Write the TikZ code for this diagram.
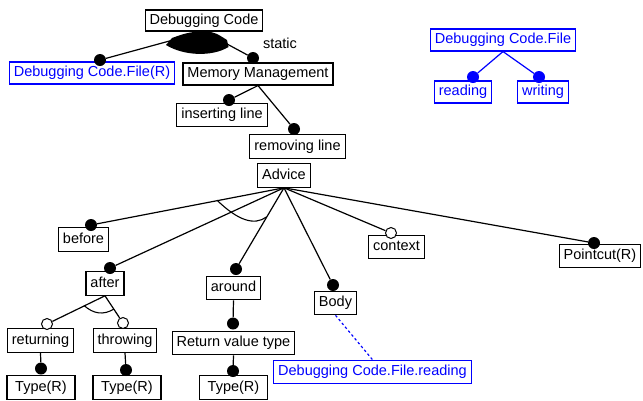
\documentclass[tikz,border=0pt]{standalone}
\usepackage{fontspec}
\setmainfont{Liberation Sans}
\begin{document}
\begin{tikzpicture}[x=1pt,y=-1pt,
  lbl/.style={font=\fontsize{14.5}{17}\selectfont},
  box/.style={lbl,draw=black,line width=1.1pt,inner xsep=4.5pt,inner ysep=0pt,text height=10.5pt,text depth=3pt,minimum height=23.5pt},
  bbox/.style={box,draw=blue,text=blue},
  tbox/.style={box,minimum width=68pt},
  edge/.style={line width=1.2pt,black},
  bedge/.style={line width=1.2pt,blue},
  fdot/.style={circle,fill=black,inner sep=0pt,minimum size=12pt},
  bdot/.style={circle,fill=blue,inner sep=0pt,minimum size=12pt},
  odot/.style={circle,draw=black,fill=white,line width=1pt,inner sep=0pt,minimum size=11pt},
  gate/.style={line width=1.1pt,black}]
\useasboundingbox (0,0) rectangle (643,400);

% boxes
\node[box,minimum height=21pt] (root) at (204,20.5) {Debugging Code};
\node[lbl] (static) at (280,43) {static};
\node[bbox,minimum height=22pt] (dcfr) at (92,73) {Debugging Code.File(R)};
\node[box,minimum height=22pt] (mm) at (258,74) {Memory Management};
\node[box] (ins) at (222,115) {inserting line};
\node[box] (rem) at (297.5,146.5) {removing line};
\node[box] (adv) at (284,175.5) {Advice};
\node[box] (bef) at (83.5,239.5) {before};
\node[box] (aft) at (105,283.5) {after};
\node[box] (aro) at (233.5,288) {around};
\node[box] (bod) at (335.5,303) {Body};
\node[box] (ctx) at (396.5,247) {context};
\node[box] (ptc) at (600,256) {Pointcut(R)};
\node[box] (ret) at (40.5,340.5) {returning};
\node[box] (thr) at (125,340.5) {throwing};
\node[box] (rvt) at (233.5,343) {Return value type};
\node[tbox] (t1) at (41,387.5) {Type(R)};
\node[tbox] (t2) at (127,387.5) {Type(R)};
\node[tbox] (t3) at (233.5,387.5) {Type(R)};
\node[bbox] (dcfread) at (372.5,372) {Debugging Code.File.reading};
\node[bbox,minimum height=22pt] (dcf) at (503,40) {Debugging Code.File};
\node[bbox,minimum height=22pt] (rd) at (463,92) {reading};
\node[bbox,minimum height=22pt] (wr) at (543,92) {writing};

% dots
\node[fdot] (dcfrd) at (100,60) {};
\node[fdot] (mmd) at (253,58) {};
\node[fdot] (insd) at (229,100) {};
\node[fdot] (remd) at (294,129) {};
\node[fdot] (befd) at (91,225) {};
\node[fdot] (aftd) at (110,268) {};
\node[fdot] (arod) at (236,269) {};
\node[fdot] (bodd) at (333,285) {};
\node[odot] (ctxd) at (391,233) {};
\node[fdot] (ptcd) at (594,243) {};
\node[odot] (retd) at (47,324) {};
\node[odot] (thrd) at (123,323) {};
\node[fdot] (rvtd) at (233,323.5) {};
\node[fdot] (t1d) at (41,368.5) {};
\node[fdot] (t2d) at (126,370) {};
\node[fdot] (t3d) at (233,371) {};
\node[bdot] (rdd) at (473,77) {};
\node[bdot] (wrd) at (539,77) {};

% edges
\draw[edge] (root.south) -- (dcfrd);
\draw[edge] (root.south) -- (mmd);
\draw[edge] (mm.south) -- (insd);
\draw[edge] (mm.south) -- (remd);
\draw[edge] (adv.south) -- (befd);
\draw[edge] (adv.south) -- (aftd);
\draw[edge] (adv.south) -- (arod);
\draw[edge] (adv.south) -- (bodd);
\draw[edge] (adv.south) -- (ctxd);
\draw[edge] (adv.south) -- (ptcd);
\draw[edge] (aft.south) -- (retd);
\draw[edge] (aft.south) -- (thrd);
\draw[edge] (aro.south) -- (rvtd);
\draw[edge] (ret.south) -- (t1d);
\draw[edge] (thr.south) -- (t2d);
\draw[edge] (rvt.south) -- (t3d);
\draw[bedge] (dcf.south) -- (rdd);
\draw[bedge] (dcf.south) -- (wrd);
\draw[bedge,dash pattern=on 2.5pt off 2.5pt] (bod.south) -- (dcfread.north);

% group marks
\fill[black] (166,45) -- (172,38) .. controls (186,33) .. (204,30.5)
  .. controls (216,33) .. (227,40) -- (228.5,47)
  .. controls (212,57) and (184,56) .. (166,45) -- cycle;
\draw[gate] (217,200.2) .. controls (237.7,220.3) and (254.3,226) .. (266.4,217);
\draw[gate] (84,305.5) .. controls (93.5,313.9) and (103.3,315.5) .. (114,309);
\end{tikzpicture}
\end{document}
